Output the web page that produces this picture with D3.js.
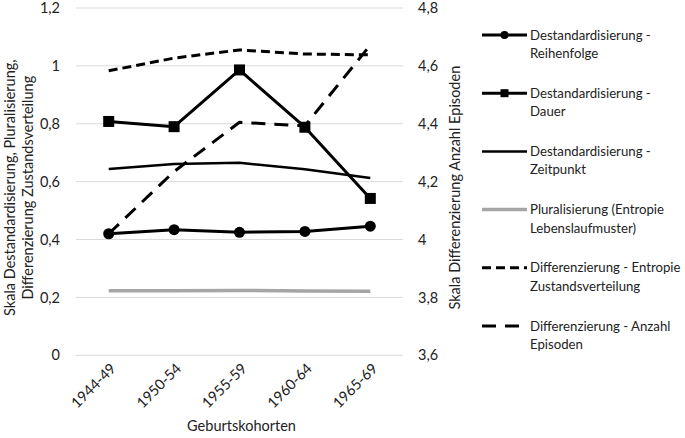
<!DOCTYPE html>
<html>
<head>
<meta charset="utf-8">
<script src="https://d3js.org/d3.v7.min.js"></script>
<style>
  body { margin: 0; background: #fff; }
  text { font-family: Lato, "Open Sans", sans-serif; fill: #222; }
  .tick text { font-size: 14.5px; }
  .axis-label { font-size: 14.5px; }
  .legend text { font-size: 13.2px; }
</style>
</head>
<body>
<svg width="685" height="438"></svg>
<script>
// data
const cohorts = ['1944-49', '1950-54', '1955-59', '1960-64', '1965-69'];
const reihenfolge = [0.42, 0.434, 0.425, 0.428, 0.446];
const dauer = [0.808, 0.79, 0.986, 0.788, 0.542];
const zeitpunkt = [0.644, 0.661, 0.665, 0.643, 0.613];
const pluralisierung = [0.223, 0.223, 0.224, 0.222, 0.221];
const entropieZust = [0.983, 1.027, 1.055, 1.041, 1.038];
const anzahlEpisoden = [4.02, 4.235, 4.405, 4.393, 4.672];  // right axis

const leftTicks = [0, 0.2, 0.4, 0.6, 0.8, 1, 1.2];
const rightTicks = [3.6, 3.8, 4, 4.2, 4.4, 4.6, 4.8];

const series = [
  { name: ['Destandardisierung -', 'Reihenfolge'], values: reihenfolge, axis: 'l', color: '#000', width: 3, dash: null, marker: 'circle' },
  { name: ['Destandardisierung -', 'Dauer'], values: dauer, axis: 'l', color: '#000', width: 3, dash: null, marker: 'square' },
  { name: ['Destandardisierung -', 'Zeitpunkt'], values: zeitpunkt, axis: 'l', color: '#000', width: 2.5, dash: null, marker: null },
  { name: ['Pluralisierung (Entropie', 'Lebenslaufmuster)'], values: pluralisierung, axis: 'l', color: '#a6a6a6', width: 3.5, dash: null, marker: null },
  { name: ['Differenzierung - Entropie', 'Zustandsverteilung'], values: entropieZust, axis: 'l', color: '#000', width: 3, dash: '9,5', marker: null },
  { name: ['Differenzierung - Anzahl', 'Episoden'], values: anzahlEpisoden, axis: 'r', color: '#000', width: 3, dash: '14,9', marker: null }
];

const svg = d3.select('svg');
const margin = { left: 76, top: 8 };
const plotW = 327, plotH = 347.3;
const g = svg.append('g').attr('transform', `translate(${margin.left},${margin.top})`);

const x = d3.scaleBand().domain(cohorts).range([0, plotW]);
const yL = d3.scaleLinear().domain([0, 1.2]).range([plotH, 0]);
const yR = d3.scaleLinear().domain([3.6, 4.8]).range([plotH, 0]);

// gridlines
g.append('g').selectAll('line').data(leftTicks).join('line')
  .attr('x1', 0).attr('x2', plotW)
  .attr('y1', d => yL(d)).attr('y2', d => yL(d))
  .attr('stroke', '#d9d9d9').attr('stroke-width', 1);

// left axis
const fmt = d => String(d).replace('.', ',');
const leftAxis = g.append('g')
  .call(d3.axisLeft(yL).tickValues(leftTicks).tickFormat(fmt).tickSize(0).tickPadding(16));
leftAxis.select('.domain').remove();

const rightAxis = g.append('g').attr('transform', `translate(${plotW},0)`)
  .call(d3.axisRight(yR).tickValues(rightTicks).tickFormat(fmt).tickSize(0).tickPadding(15));
rightAxis.select('.domain').remove();

// x axis labels
const xAxis = g.append('g').attr('transform', `translate(0,${plotH})`)
  .call(d3.axisBottom(x).tickSize(0));
xAxis.select('.domain').remove();
xAxis.selectAll('.tick text')
  .attr('text-anchor', 'end')
  .attr('dy', 0)
  .attr('transform', 'translate(6,12) rotate(-45)');

// axis titles
g.append('text').attr('class', 'axis-label')
  .attr('x', plotW / 2 + 2).attr('y', 431 - margin.top)
  .attr('text-anchor', 'middle').text('Geburtskohorten');

const lt = g.append('text').attr('class', 'axis-label')
  .attr('transform', `translate(-61,${plotH / 2 + 6}) rotate(-90)`)
  .attr('text-anchor', 'middle');
lt.append('tspan').attr('x', 0).attr('dy', 0).text('Skala Destandardisierung, Pluralisierung,');
lt.append('tspan').attr('x', 0).attr('dy', 18).text('Differenzierung Zustandsverteilung');

g.append('text').attr('class', 'axis-label')
  .attr('transform', `translate(${plotW + 57},${plotH / 2 + 6}) rotate(-90)`)
  .attr('text-anchor', 'middle')
  .text('Skala Differenzierung Anzahl Episoden');

// lines
const cx = c => x(c) + x.bandwidth() / 2;
series.forEach(s => {
  const y = s.axis === 'l' ? yL : yR;
  const line = d3.line().x((d, i) => cx(cohorts[i])).y(d => y(d));
  g.append('path').datum(s.values)
    .attr('d', line)
    .attr('fill', 'none')
    .attr('stroke', s.color)
    .attr('stroke-width', s.width)
    .attr('stroke-dasharray', s.dash)
    .attr('stroke-linejoin', 'round');
  if (s.marker === 'circle') {
    g.selectAll(null).data(s.values).join('circle')
      .attr('cx', (d, i) => cx(cohorts[i])).attr('cy', d => y(d))
      .attr('r', 5.5).attr('fill', '#000');
  } else if (s.marker === 'square') {
    g.selectAll(null).data(s.values).join('rect')
      .attr('x', (d, i) => cx(cohorts[i]) - 5.5).attr('y', d => y(d) - 5.5)
      .attr('width', 11).attr('height', 11).attr('fill', '#000');
  }
});

// legend
const legend = svg.append('g').attr('class', 'legend').attr('transform', 'translate(482,35)');
series.forEach((s, i) => {
  const lg = legend.append('g').attr('transform', `translate(0,${i * 58.2})`);
  lg.append('line').attr('x1', 0).attr('x2', 45).attr('y1', 0).attr('y2', 0)
    .attr('stroke', s.color).attr('stroke-width', s.width)
    .attr('stroke-dasharray', s.dash);
  if (s.marker === 'circle') lg.append('circle').attr('cx', 22.5).attr('cy', 0).attr('r', 4).attr('fill', '#000');
  if (s.marker === 'square') lg.append('rect').attr('x', 18.5).attr('y', -4).attr('width', 8).attr('height', 8).attr('fill', '#000');
  const t = lg.append('text').attr('x', 48).attr('y', 4.5);
  t.append('tspan').attr('x', 48).text(s.name[0]);
  t.append('tspan').attr('x', 48).attr('dy', 18.5).text(s.name[1]);
});
</script>
</body>
</html>
